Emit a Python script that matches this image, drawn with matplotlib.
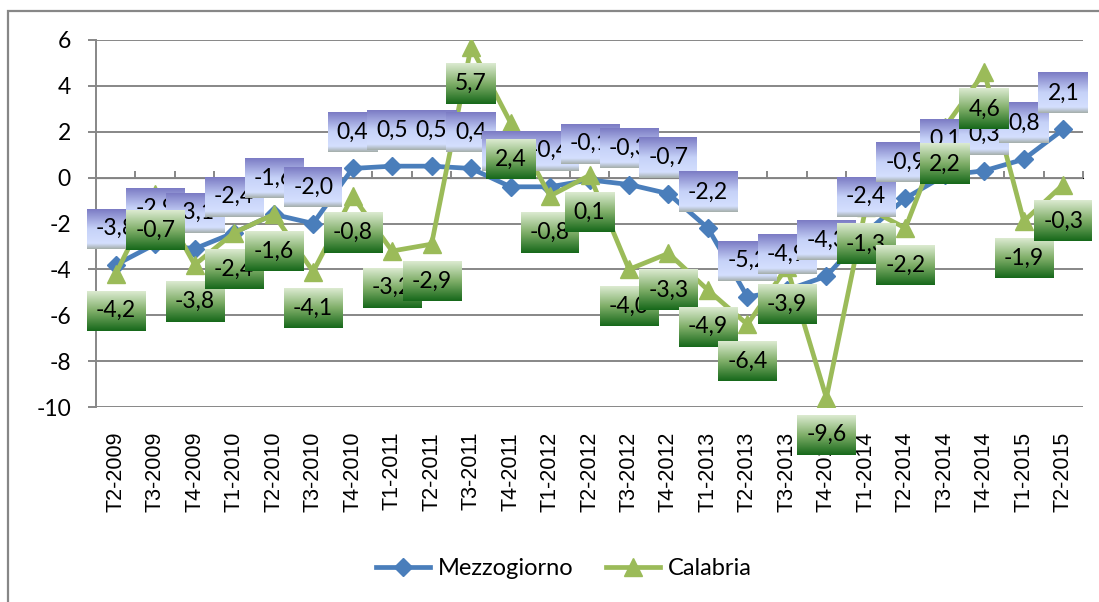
import numpy as np
import matplotlib
matplotlib.use('Agg')
import matplotlib.pyplot as plt
from matplotlib.colors import to_rgb


quarters = ['T2-2009', 'T3-2009', 'T4-2009', 'T1-2010', 'T2-2010', 'T3-2010', 'T4-2010',
            'T1-2011', 'T2-2011', 'T3-2011', 'T4-2011', 'T1-2012', 'T2-2012', 'T3-2012',
            'T4-2012', 'T1-2013', 'T2-2013', 'T3-2013', 'T4-2013', 'T1-2014', 'T2-2014',
            'T3-2014', 'T4-2014', 'T1-2015', 'T2-2015']
mezzogiorno = [-3.8, -2.9, -3.1, -2.4, -1.6, -2.0, 0.4, 0.5, 0.5, 0.4, -0.4, -0.4, -0.1,
               -0.3, -0.7, -2.2, -5.2, -4.9, -4.3, -2.4, -0.9, 0.1, 0.3, 0.8, 2.1]
calabria = [-4.2, -0.7, -3.8, -2.4, -1.6, -4.1, -0.8, -3.2, -2.9, 5.7, 2.4, -0.8, 0.1,
            -4.0, -3.3, -4.9, -6.4, -3.9, -9.6, -1.3, -2.2, 2.2, 4.6, -1.9, -0.3]
yticks = [-10, -8, -6, -4, -2, 0, 2, 4, 6]

BLUE = '#4a7ebb'
GREEN = '#9bbb59'
GRAY = '#878787'
LABEL_FONT = 'Lato'

blue_stops = [(0, '#7b7bc4'), (0.5, '#c6d2f8'), (0.86, '#d4dffe'), (1, '#a4aeaa')]
green_stops = [(0, '#dcebd1'), (0.5, '#7fae68'), (1, '#16681a')]


def gradient(stops, n=120):
    pos = [s[0] for s in stops]
    cols = np.array([to_rgb(s[1]) for s in stops])
    t = np.linspace(0, 1, n)
    img = np.stack([np.interp(t, pos, cols[:, k]) for k in range(3)], axis=1)
    return img[:, None, :]


def fmt(v):
    return f'{v:.1f}'.replace('.', ',')


fig = plt.figure(figsize=(10.99, 6.02), dpi=100)
ax = fig.add_axes([96 / 1099, 1 - 407 / 602, (1083 - 96) / 1099, (407 - 40) / 602])

x = np.arange(len(quarters))
ax.plot(x, mezzogiorno, color=BLUE, lw=3.4, marker='D', ms=9.5, zorder=3, label='Mezzogiorno')
ax.plot(x, calabria, color=GREEN, lw=3.4, marker='^', ms=13, zorder=4, label='Calabria')

ax.set_xlim(-0.5, len(quarters) - 0.5)
ax.set_ylim(-10, 6)
ax.set_yticks(yticks)
ax.set_yticklabels([str(v) for v in yticks], fontsize=16.5, family=LABEL_FONT)
ax.set_xticks(x)
ax.set_xticklabels(quarters, rotation=90, fontsize=15.5, family='Liberation Sans')
ax.tick_params(axis='x', length=0, pad=18)
ax.tick_params(axis='y', length=6, width=1.4, color=GRAY, pad=12)
ax.yaxis.grid(True, color=GRAY, lw=1.4)
ax.set_axisbelow(True)
for side in ['top', 'right', 'bottom']:
    ax.spines[side].set_visible(False)
ax.spines['left'].set_color(GRAY)
ax.spines['left'].set_linewidth(1.4)

# horizontal axis line crossing at 0, ticks between categories
sec = ax.secondary_xaxis((0 - yticks[0]) / (yticks[-1] - yticks[0]))
sec.set_xticks(np.arange(-0.5, len(quarters), 1))
sec.set_xticklabels([])
sec.tick_params(length=5, width=1.4, color=GRAY, direction='out')
sec.spines['bottom'].set_color(GRAY)
sec.spines['bottom'].set_linewidth(1.4)

# data labels
labels = []
for i, v in enumerate(mezzogiorno):
    t = ax.annotate(fmt(v), (i, v), xytext=(0, 26), textcoords='offset points',
                    ha='center', va='center', fontsize=16.5, family=LABEL_FONT,
                    zorder=10 + i * 0.1 + 0.05, annotation_clip=False)
    labels.append((t, blue_stops, 10 + i * 0.1))
for i, v in enumerate(calabria):
    t = ax.annotate(fmt(v), (i, v), xytext=(0, -26.5), textcoords='offset points',
                    ha='center', va='center', fontsize=16.5, family=LABEL_FONT,
                    zorder=20 + i * 0.1 + 0.05, annotation_clip=False)
    labels.append((t, green_stops, 20 + i * 0.1))

fig.canvas.draw()
r = fig.canvas.get_renderer()
inv = ax.transData.inverted()
for t, stops, z in labels:
    ext = t.get_window_extent(r)
    cx, cy = (ext.x0 + ext.x1) / 2, (ext.y0 + ext.y1) / 2
    w = ext.width + 18
    h = 40
    (x0, y0) = inv.transform((cx - w / 2, cy - h / 2))
    (x1, y1) = inv.transform((cx + w / 2, cy + h / 2))
    ax.imshow(gradient(stops), extent=(x0, x1, y0, y1), aspect='auto',
              interpolation='bilinear', zorder=z, clip_on=False)

ax.set_xlim(-0.5, len(quarters) - 0.5)
ax.set_ylim(-10, 6)

leg = fig.legend(handles=ax.get_lines()[:2], loc='center', bbox_to_anchor=(0.513, 0.055),
                 ncol=2, frameon=False, prop={'family': LABEL_FONT, 'size': 17},
                 handlelength=2.3, handletextpad=0.3, columnspacing=1.4)

# outer chart border (only top and left visible inside the image)
fig.add_artist(plt.Rectangle((8 / 1099, -0.2), 1.2, 1.2 - 11 / 602, transform=fig.transFigure,
                             fill=False, ec=GRAY, lw=1.6))

fig.savefig('out.png', dpi=100)
